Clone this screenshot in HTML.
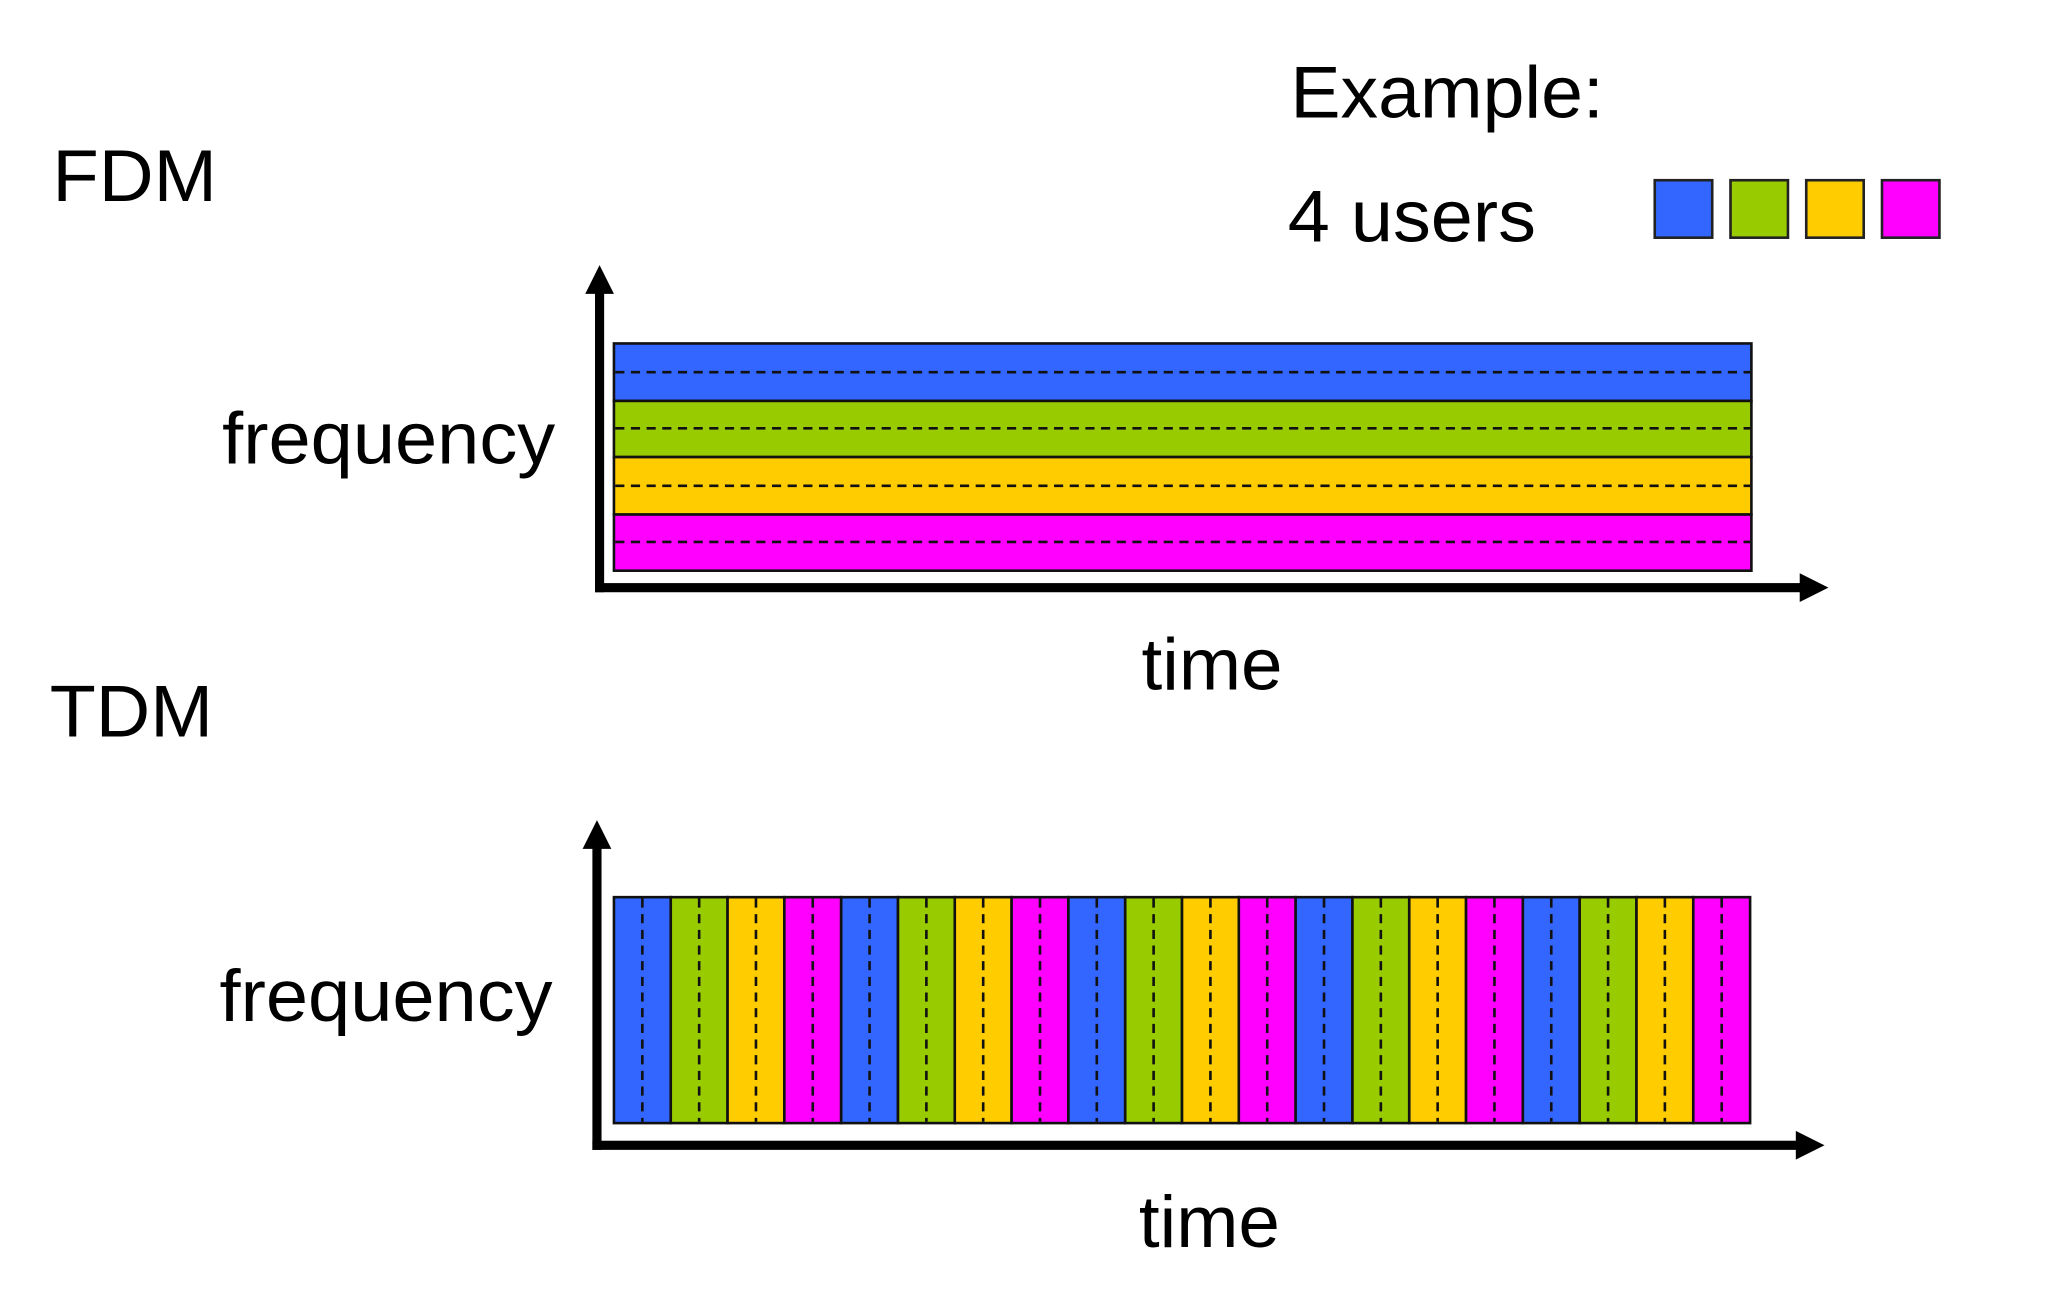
<!DOCTYPE html>
<html><head><meta charset="utf-8"><style>
html,body{margin:0;padding:0;background:#fff;}
svg{display:block;}
text{font-family:"Liberation Sans",Arial,sans-serif;fill:#000;}
</style></head><body>
<svg width="2048" height="1302" viewBox="0 0 1568 997" xmlns="http://www.w3.org/2000/svg">
<rect width="1568" height="997" fill="#fff"/>
<text x="988" y="90" font-size="56" textLength="240" lengthAdjust="spacingAndGlyphs">Example:</text>
<text x="986" y="185" font-size="56" textLength="190" lengthAdjust="spacingAndGlyphs">4 users</text>
<g stroke="#222" stroke-width="2">
<rect x="1267" y="138" width="44" height="44" fill="#3366ff"/>
<rect x="1325" y="138" width="44" height="44" fill="#99cc00"/>
<rect x="1383" y="138" width="44" height="44" fill="#ffcc00"/>
<rect x="1441" y="138" width="44" height="44" fill="#ff00ff"/>
</g>
<text x="40" y="154" font-size="56" textLength="126" lengthAdjust="spacingAndGlyphs">FDM</text>
<text x="170" y="355" font-size="56" textLength="255" lengthAdjust="spacingAndGlyphs">frequency</text>
<text x="874" y="528" font-size="56" textLength="108" lengthAdjust="spacingAndGlyphs">time</text>
<text x="38" y="564" font-size="56" textLength="125" lengthAdjust="spacingAndGlyphs">TDM</text>
<text x="168" y="782" font-size="56" textLength="255" lengthAdjust="spacingAndGlyphs">frequency</text>
<text x="872" y="955" font-size="56" textLength="108" lengthAdjust="spacingAndGlyphs">time</text>

<g stroke="#111" stroke-width="2">
<rect x="470" y="263" width="871" height="44" fill="#3366ff"/>
<rect x="470" y="307" width="871" height="43" fill="#99cc00"/>
<rect x="470" y="350" width="871" height="44" fill="#ffcc00"/>
<rect x="470" y="394" width="871" height="43" fill="#ff00ff"/>
</g>
<g stroke="#111" stroke-width="2" stroke-dasharray="7,5">
<line x1="471" y1="285" x2="1340" y2="285"/>
<line x1="471" y1="328" x2="1340" y2="328"/>
<line x1="471" y1="372" x2="1340" y2="372"/>
<line x1="471" y1="415" x2="1340" y2="415"/>
</g>
<g fill="#000">
<rect x="455.5" y="222" width="7" height="231.5"/>
<polygon points="459,203 448,225 470,225"/>
<rect x="455.5" y="446.5" width="928" height="7"/>
<polygon points="1400,450 1378,439 1378,461"/>
</g>

<g fill="#000">
<rect x="453.5" y="648" width="7" height="232.5"/>
<polygon points="457,628 446,650 468,650"/>
<rect x="453.5" y="873.5" width="926" height="7"/>
<polygon points="1397,877 1375,866 1375,888"/>
</g>
<g stroke="#111" stroke-width="2">
<rect x="470.0" y="687" width="43.5" height="173" fill="#3366ff"/>
<rect x="513.5" y="687" width="43.5" height="173" fill="#99cc00"/>
<rect x="557.0" y="687" width="43.5" height="173" fill="#ffcc00"/>
<rect x="600.5" y="687" width="43.5" height="173" fill="#ff00ff"/>
<rect x="644.0" y="687" width="43.5" height="173" fill="#3366ff"/>
<rect x="687.5" y="687" width="43.5" height="173" fill="#99cc00"/>
<rect x="731.0" y="687" width="43.5" height="173" fill="#ffcc00"/>
<rect x="774.5" y="687" width="43.5" height="173" fill="#ff00ff"/>
<rect x="818.0" y="687" width="43.5" height="173" fill="#3366ff"/>
<rect x="861.5" y="687" width="43.5" height="173" fill="#99cc00"/>
<rect x="905.0" y="687" width="43.5" height="173" fill="#ffcc00"/>
<rect x="948.5" y="687" width="43.5" height="173" fill="#ff00ff"/>
<rect x="992.0" y="687" width="43.5" height="173" fill="#3366ff"/>
<rect x="1035.5" y="687" width="43.5" height="173" fill="#99cc00"/>
<rect x="1079.0" y="687" width="43.5" height="173" fill="#ffcc00"/>
<rect x="1122.5" y="687" width="43.5" height="173" fill="#ff00ff"/>
<rect x="1166.0" y="687" width="43.5" height="173" fill="#3366ff"/>
<rect x="1209.5" y="687" width="43.5" height="173" fill="#99cc00"/>
<rect x="1253.0" y="687" width="43.5" height="173" fill="#ffcc00"/>
<rect x="1296.5" y="687" width="43.5" height="173" fill="#ff00ff"/>
</g>
<g stroke="#111" stroke-width="2" stroke-dasharray="7,5">
<line x1="491.75" y1="688" x2="491.75" y2="859"/>
<line x1="535.25" y1="688" x2="535.25" y2="859"/>
<line x1="578.75" y1="688" x2="578.75" y2="859"/>
<line x1="622.25" y1="688" x2="622.25" y2="859"/>
<line x1="665.75" y1="688" x2="665.75" y2="859"/>
<line x1="709.25" y1="688" x2="709.25" y2="859"/>
<line x1="752.75" y1="688" x2="752.75" y2="859"/>
<line x1="796.25" y1="688" x2="796.25" y2="859"/>
<line x1="839.75" y1="688" x2="839.75" y2="859"/>
<line x1="883.25" y1="688" x2="883.25" y2="859"/>
<line x1="926.75" y1="688" x2="926.75" y2="859"/>
<line x1="970.25" y1="688" x2="970.25" y2="859"/>
<line x1="1013.75" y1="688" x2="1013.75" y2="859"/>
<line x1="1057.25" y1="688" x2="1057.25" y2="859"/>
<line x1="1100.75" y1="688" x2="1100.75" y2="859"/>
<line x1="1144.25" y1="688" x2="1144.25" y2="859"/>
<line x1="1187.75" y1="688" x2="1187.75" y2="859"/>
<line x1="1231.25" y1="688" x2="1231.25" y2="859"/>
<line x1="1274.75" y1="688" x2="1274.75" y2="859"/>
<line x1="1318.25" y1="688" x2="1318.25" y2="859"/>
</g>
</svg>
</body></html>
